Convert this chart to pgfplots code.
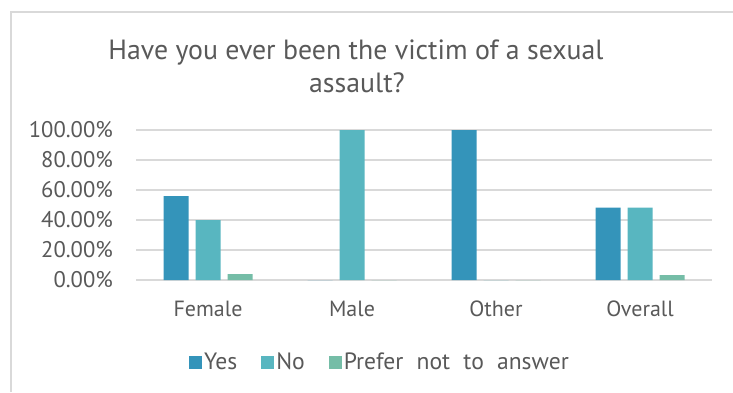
\documentclass[border=0pt]{standalone}
\usepackage{pgfplots}
\pgfplotsset{compat=1.18}
\usepackage{fontspec}
\setmainfont{PT Sans}
\newfontfamily\legfont{PT Sans}[WordSpace=2.1]
\definecolor{txt}{HTML}{595959}
\definecolor{gridc}{HTML}{D9D9D9}
\definecolor{cyes}{HTML}{3494BA}
\definecolor{cno}{HTML}{58B6C0}
\definecolor{cpref}{HTML}{75BDA7}
\begin{document}
\begin{tikzpicture}[x=1bp,y=1bp]
\useasboundingbox (0,0) rectangle (733,392);
\draw[line width=1.5bp, color=gridc] (11,0) -- (11,380) -- (733,380);
\node[anchor=base, text=txt, font=\fontsize{27.8bp}{32bp}\selectfont] at (356,333) {Have you ever been the victim of a sexual};
\node[anchor=base, text=txt, font=\fontsize{27.8bp}{32bp}\selectfont] at (357,300) {assault?};
\begin{axis}[
  at={(136bp,112bp)}, anchor=south west,
  scale only axis, width=576bp, height=150bp,
  ybar=7bp, bar width=25bp,
  xmin=-0.5, xmax=3.5, ymin=0, ymax=100,
  xtick={0,1,2,3}, xticklabels={Female,Male,Other,Overall},
  ytick={0,20,40,60,80,100},
  axis line style={draw=none},
  major tick length=0pt,
  ymajorgrids, grid style={gridc, line width=1.5bp},
  /pgf/number format/assume math mode=true,
  yticklabel={\pgfmathprintnumber[fixed,fixed zerofill,precision=2]{\tick}\%},
  ticklabel style={text=txt},
  yticklabel style={anchor=east, inner sep=0pt, xshift=-23bp, font=\fontsize{22.6bp}{24bp}\selectfont},
  xticklabel style={anchor=base, inner sep=0pt, yshift=-36bp, font=\fontsize{22bp}{24bp}\selectfont},
  legend columns=3,
  legend style={draw=none, at={(0.4236,-0.547)}, anchor=center, text=txt,
    font=\legfont\fontsize{23.6bp}{25bp}\selectfont,
    /tikz/every even column/.append style={column sep=22bp}},
  legend image code/.code={\fill[#1] (0bp,-6.5bp) rectangle (13bp,6.5bp);},
]
\addplot[fill=cyes, draw=none] coordinates {(0,56) (1,0) (2,100) (3,48.3)};
\addplot[fill=cno, draw=none] coordinates {(0,40) (1,100) (2,0) (3,48.3)};
\addplot[fill=cpref, draw=none] coordinates {(0,4) (1,0) (2,0) (3,3.3)};
\legend{Yes,No,Prefer not to answer}
\end{axis}
\end{tikzpicture}
\end{document}
